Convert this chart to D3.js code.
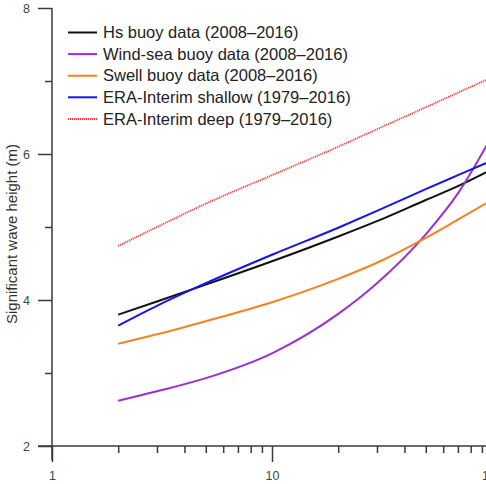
<!DOCTYPE html>
<html>
<head>
<meta charset="utf-8">
<script src="https://cdn.jsdelivr.net/npm/d3@7"></script>
<style>
  body { margin: 0; background: #fff; }
  svg { display: block; font-family: "Liberation Sans", Arial, sans-serif; }
</style>
</head>
<body>
<div id="chart"></div>
<script>
// chart values
var periods = [2, 3, 5, 10, 20, 30, 50, 70, 100];
var hsBuoy      = [3.80, 3.98, 4.21, 4.53, 4.87, 5.08, 5.37, 5.56, 5.79];
var windSeaBuoy = [2.62, 2.75, 2.93, 3.27, 3.81, 4.23, 4.90, 5.46, 6.25];
var swellBuoy   = [3.40, 3.53, 3.71, 3.97, 4.29, 4.51, 4.85, 5.10, 5.37];
var eraShallow  = [3.65, 3.92, 4.23, 4.62, 4.99, 5.22, 5.52, 5.71, 5.91];
var eraDeep     = [4.74, 5.00, 5.32, 5.71, 6.10, 6.34, 6.64, 6.84, 7.05];

var seriesNames = ["Hs buoy data (2008\u20132016)", "Wind-sea buoy data (2008\u20132016)",
  "Swell buoy data (2008\u20132016)", "ERA-Interim shallow (1979\u20132016)", "ERA-Interim deep (1979\u20132016)"];
var seriesColors = ["#111111", "#9b2fd6", "#f5821f", "#1515ee", "#ff3b3b"];

var yMajor = [2, 4, 6, 8];
var yMinor = [3, 5, 7];
var xMajor = [1, 10, 100];
var xMinor = [2, 3, 4, 5, 6, 7, 8, 9, 20, 30, 40, 50, 60, 70, 80, 90];

var width = 486, height = 484;

var series = [hsBuoy, windSeaBuoy, swellBuoy, eraShallow, eraDeep].map(function(vals, i) {
  return {
    name: seriesNames[i],
    color: seriesColors[i],
    dotted: i == 4,
    values: periods.map(function(p, j) { return {x: p, y: vals[j]}; })
  };
});

var svg = d3.select("#chart").append("svg")
  .attr("width", width)
  .attr("height", height);

var x = d3.scaleLog().domain([1, 100]).range([52, 492]);
var y = d3.scaleLinear().domain([2, 8]).range([446, 8]);

var axisColor = "#3a3a3a";

// Y axis
var yAx = svg.append("g").attr("transform", "translate(" + x(1) + ",0)");
yAx.call(d3.axisLeft(y).tickValues(yMajor).tickSize(14).tickPadding(8).tickFormat(d3.format("d")));
yAx.select(".domain").remove();
svg.append("g").attr("transform", "translate(" + x(1) + ",0)")
  .call(d3.axisLeft(y).tickValues(yMinor).tickSize(7).tickFormat(""))
  .select(".domain").remove();
svg.append("line")
  .attr("x1", x(1)).attr("x2", x(1))
  .attr("y1", y(8)).attr("y2", y(2) + 14)
  .attr("stroke", axisColor).attr("stroke-width", 1.5);

// X axis
var xAx = svg.append("g").attr("transform", "translate(0," + y(2) + ")");
xAx.call(d3.axisBottom(x).tickValues(xMajor).tickSize(16).tickPadding(9).tickFormat(d3.format("d")));
xAx.select(".domain").remove();
svg.append("g").attr("transform", "translate(0," + y(2) + ")")
  .call(d3.axisBottom(x).tickValues(xMinor).tickSize(7).tickFormat(""))
  .select(".domain").remove();
svg.append("line")
  .attr("x1", x(1) - 14).attr("x2", x(100))
  .attr("y1", y(2)).attr("y2", y(2))
  .attr("stroke", axisColor).attr("stroke-width", 1.5);

svg.selectAll(".tick line").attr("stroke", axisColor).attr("stroke-width", 1.5);
svg.selectAll(".tick text").attr("fill", "#444").style("font-size", "12.5px");

// Y axis title
svg.append("text")
  .attr("transform", "translate(17,234) rotate(-90)")
  .attr("text-anchor", "middle")
  .attr("fill", "#333")
  .style("font-size", "15px")
  .text("Significant wave height (m)");

// lines
var line = d3.line()
  .x(function(d) { return x(d.x); })
  .y(function(d) { return y(d.y); })
  .curve(d3.curveMonotoneX);

svg.selectAll("path.series")
  .data(series)
  .enter()
  .append("path")
    .attr("class", "series")
    .attr("d", function(d) { return line(d.values); })
    .attr("fill", "none")
    .attr("stroke", function(d) { return d.color; })
    .attr("stroke-width", function(d) { return d.dotted ? 1.8 : 2; })
    .attr("stroke-dasharray", function(d) { return d.dotted ? "1.2,0.8" : null; });

// legend
var legend = svg.selectAll("g.legend")
  .data(series)
  .enter()
  .append("g")
    .attr("class", "legend")
    .attr("transform", function(d, i) { return "translate(68," + (32.5 + i * 21.6) + ")"; });

legend.append("line")
  .attr("x1", 0).attr("x2", 29)
  .attr("stroke", function(d) { return d.color; })
  .attr("stroke-width", 2)
  .attr("stroke-dasharray", function(d) { return d.dotted ? "1.2,0.8" : null; });

legend.append("text")
  .attr("x", 35)
  .attr("dy", "0.35em")
  .attr("fill", "#222")
  .style("font-size", "16.5px")
  .text(function(d) { return d.name; });
</script>
</body>
</html>
